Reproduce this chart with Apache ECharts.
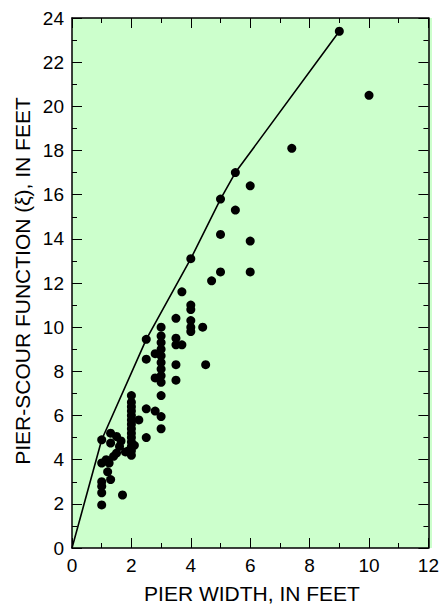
<!DOCTYPE html>
<html>
<head>
<meta charset="utf-8">
<script src="https://cdn.jsdelivr.net/npm/echarts@6/dist/echarts.min.js"></script>
<style>
  html, body { margin: 0; padding: 0; background: #fff; }
  #wrap { position: relative; width: 442px; height: 606px; }
  #plotbg { position: absolute; left: 72px; top: 18px; width: 360px; height: 530px; background: #ccffcc; }
  #main { position: absolute; left: 0; top: 0; width: 442px; height: 606px; }
</style>
</head>
<body>
<div id="wrap">
  <div id="plotbg"></div>
  <div id="main"></div>
</div>
<script>
// observed pier width (ft) and pier-scour function (ft)
var pierWidth = [
  1, 1, 1, 1, 1, 1,
  1.15, 1.3, 1.3, 1.25, 1.2, 1.3, 1.5, 1.65, 1.5, 1.4, 1.7, 1.6, 1.8, 1.9,
  2, 2, 2, 2, 2, 2, 2, 2, 2, 2, 2, 2, 2, 2,
  2.1, 2.25, 2.5, 2.5, 2.8, 3, 3, 3,
  2.5, 2.5, 2.8, 2.8,
  3, 3, 3, 3, 3, 3, 3, 3, 3,
  3.5, 3.5, 3.5, 3.7, 3.5, 3.5,
  4, 4, 4, 4, 4, 4.4, 4.5,
  3.7, 4, 4.7, 5, 6, 5, 6, 5, 5.5, 5.5, 6, 7.4, 9, 10
];
var scourFn = [
  4.9, 3.85, 3.0, 2.8, 2.5, 1.95,
  4.0, 5.2, 4.75, 3.85, 3.45, 3.1, 5.05, 4.85, 4.3, 4.15, 2.4, 4.6, 4.35, 4.4,
  4.2, 4.4, 4.6, 4.8, 5.0, 5.2, 5.4, 5.6, 5.8, 6.0, 6.2, 6.4, 6.6, 6.9,
  4.65, 5.8, 5.0, 6.3, 6.2, 5.95, 5.4, 6.9,
  9.45, 8.55, 8.8, 7.7,
  7.5, 7.8, 8.1, 8.4, 8.7, 9.0, 9.3, 9.6, 10.0,
  10.4, 9.5, 9.2, 9.2, 8.3, 7.6,
  11.0, 10.8, 10.3, 10.0, 9.8, 10.0, 8.3,
  11.6, 13.1, 12.1, 12.5, 12.5, 14.2, 13.9, 15.8, 15.3, 17.0, 16.4, 18.1, 23.4, 20.5
];
// envelope curve
var envX = [0, 1, 2.5, 4, 5, 5.5, 9];
var envY = [0, 4.9, 9.45, 13.1, 15.8, 17.0, 23.4];

var xTitle = 'PIER WIDTH, IN FEET';
var yTitle = 'PIER-SCOUR FUNCTION (\u03BE), IN FEET';

function pairs(a, b) {
  var out = [];
  for (var i = 0; i < a.length; i++) out.push([a[i], b[i]]);
  return out;
}

var fontFamily = 'Liberation Sans, Arial, sans-serif';

function makeAxis(min, max, interval, showLabels, pos) {
  return {
    type: 'value',
    min: min,
    max: max,
    interval: interval,
    position: pos,
    axisLine: { show: true, onZero: false, lineStyle: { color: '#000', width: 1.5 } },
    axisTick: { show: true, inside: true, length: 10, lineStyle: { color: '#000', width: 1 } },
    minorTick: { show: true, splitNumber: 2, length: 5, lineStyle: { color: '#000', width: 1 } },
    axisLabel: { show: showLabels, color: '#000', fontSize: 19, fontFamily: fontFamily, margin: 8 },
    splitLine: { show: false }
  };
}

var chart = echarts.init(document.getElementById('main'), null, { renderer: 'svg' });

chart.setOption({
  animation: false,
  backgroundColor: 'transparent',
  grid: { left: 72, top: 18, width: 360, height: 530, show: false },
  graphic: [
    {
      type: 'text', x: 252, y: 593, silent: true,
      style: { text: xTitle, fill: '#000', font: '21px ' + fontFamily, align: 'center', verticalAlign: 'middle' }
    },
    {
      type: 'text', x: 22, y: 281, rotation: Math.PI / 2, silent: true,
      style: { text: yTitle, fill: '#000', font: '21px ' + fontFamily, align: 'center', verticalAlign: 'middle' }
    }
  ],
  xAxis: [
    makeAxis(0, 12, 2, true, 'bottom'),
    makeAxis(0, 12, 2, false, 'top')
  ],
  yAxis: [
    makeAxis(0, 24, 2, true, 'left'),
    makeAxis(0, 24, 2, false, 'right')
  ],
  series: [
    {
      type: 'line',
      data: pairs(envX, envY),
      showSymbol: false,
      lineStyle: { color: '#000', width: 1.6 }
    },
    {
      type: 'scatter',
      data: pairs(pierWidth, scourFn),
      symbol: 'circle',
      symbolSize: 9,
      itemStyle: { color: '#000', opacity: 1 }
    }
  ]
});
</script>
</body>
</html>
